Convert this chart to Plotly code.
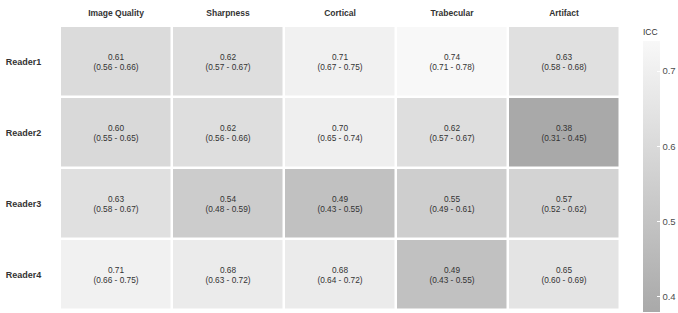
import plotly.graph_objects as go

metrics = ["Image Quality", "Sharpness", "Cortical", "Trabecular", "Artifact"]
readers = ["Reader1", "Reader2", "Reader3", "Reader4"]

icc = [
    [0.61, 0.62, 0.71, 0.74, 0.63],
    [0.60, 0.62, 0.70, 0.62, 0.38],
    [0.63, 0.54, 0.49, 0.55, 0.57],
    [0.71, 0.68, 0.68, 0.49, 0.65],
]
ci_low = [
    [0.56, 0.57, 0.67, 0.71, 0.58],
    [0.55, 0.56, 0.65, 0.57, 0.31],
    [0.58, 0.48, 0.43, 0.49, 0.52],
    [0.66, 0.63, 0.64, 0.43, 0.60],
]
ci_high = [
    [0.66, 0.67, 0.75, 0.78, 0.68],
    [0.65, 0.66, 0.74, 0.67, 0.45],
    [0.67, 0.59, 0.55, 0.61, 0.62],
    [0.75, 0.72, 0.72, 0.55, 0.69],
]

text = [[f"{icc[i][j]:.2f}<br>({ci_low[i][j]:.2f} - {ci_high[i][j]:.2f})"
         for j in range(len(metrics))] for i in range(len(readers))]

zmin = min(min(r) for r in icc)
zmax = max(max(r) for r in icc)

FONT = "Liberation Sans, Arial"

fig = go.Figure(go.Heatmap(
    z=icc, x=metrics, y=readers,
    text=text, texttemplate="%{text}",
    textfont=dict(size=8.3, color="#333333", family=FONT),
    colorscale=[[0, "#a9a9a9"], [1, "#f8f8f8"]],
    zmin=zmin, zmax=zmax,
    xgap=2.5, ygap=2.5,
    colorbar=dict(
        title=dict(text="ICC", side="top", font=dict(size=8.5, color="#333333", family=FONT)),
        thickness=17, lenmode="pixels", len=286,
        x=1.041, xanchor="left", xpad=0,
        y=1.0, yanchor="top", ypad=0,
        outlinewidth=0, tickvals=[0.4, 0.5, 0.6, 0.7],
        ticks="inside", ticklen=3, tickcolor="white",
        tickfont=dict(size=9.5, color="#4d4d4d", family=FONT),
    ),
    hoverinfo="skip",
))

fig.update_layout(
    width=678, height=313,
    margin=dict(l=60, r=58, t=26, b=3, autoexpand=False),
    plot_bgcolor="white", paper_bgcolor="white",
    font=dict(family=FONT, color="#333333"),
    xaxis=dict(side="top", showgrid=False, zeroline=False, ticks="outside",
               ticklen=6, tickcolor="white",
               tickfont=dict(size=8.5, color="#333333", family=FONT),
               tickprefix="<b>", ticksuffix="</b>"),
    yaxis=dict(autorange="reversed", showgrid=False, zeroline=False,
               ticks="outside", ticklen=16, tickcolor="white",
               tickfont=dict(size=9, color="#333333", family=FONT),
               tickprefix="<b>", ticksuffix="</b>"),
)

fig.write_html("out.html")
